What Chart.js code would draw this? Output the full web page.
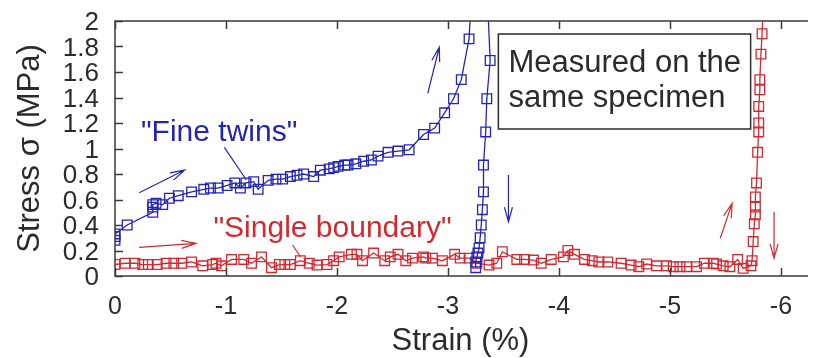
<!DOCTYPE html>
<html>
<head>
<meta charset="utf-8">
<script src="https://cdn.jsdelivr.net/npm/chart.js@4.4.1/dist/chart.umd.min.js"></script>
<style>
  html, body { margin: 0; padding: 0; background: #fff; }
  canvas { display: block; }
</style>
</head>
<body>
<canvas id="stressStrain" width="814" height="358"></canvas>
<script>
// axis ticks
const xTicks = [0, -1, -2, -3, -4, -5, -6]
const yTicks = [0, 0.2, 0.4, 0.6, 0.8, 1, 1.2, 1.4, 1.6, 1.8, 2]

// "Fine twins": loading branch, turnaround above 2 MPa, unloading branch
const fineStrain = [0, 0, 0, -0.11, -0.34, -0.34, -0.34, -0.37, -0.43, -0.49, -0.57, -0.69, -0.80, -0.86, -0.93,
  -1.01, -1.08, -1.13, -1.18, -1.25, -1.29, -1.38, -1.45, -1.51, -1.58, -1.64, -1.70, -1.79, -1.85, -1.93,
  -1.97, -2.01, -2.07, -2.10, -2.17, -2.24, -2.31, -2.37, -2.46, -2.55, -2.65, -2.78, -2.88, -2.97, -3.05,
  -3.12, -3.19, -3.29,
  -3.38, -3.35, -3.34, -3.32, -3.32, -3.31, -3.30, -3.29, -3.28, -3.27, -3.26, -3.25, -3.25]
const fineStress = [0.28, 0.31, 0.33, 0.40, 0.50, 0.54, 0.56, 0.57, 0.56, 0.61, 0.63, 0.66, 0.68, 0.69, 0.69,
  0.71, 0.73, 0.69, 0.73, 0.74, 0.68, 0.75, 0.76, 0.76, 0.78, 0.79, 0.80, 0.78, 0.83, 0.84,
  0.85, 0.86, 0.87, 0.87, 0.88, 0.90, 0.91, 0.94, 0.97, 0.98, 0.99, 1.11, 1.16, 1.28, 1.39,
  1.54, 1.86, 3.50,
  1.69, 1.39, 1.13, 0.87, 0.66, 0.52, 0.40, 0.30, 0.22, 0.18, 0.15, 0.11, 0.065]

// "Single boundary"
const singleStrain = [0, -0.09, -0.18, -0.25, -0.30, -0.38, -0.46, -0.53, -0.60, -0.69, -0.79, -0.88, -0.91, -0.96,
  -1.05, -1.16, -1.23, -1.32, -1.41, -1.48, -1.53, -1.58, -1.67, -1.75, -1.82, -1.91, -1.97, -2.02, -2.13,
  -2.18, -2.23, -2.33, -2.43, -2.48, -2.55, -2.62, -2.68, -2.78, -2.80, -2.86, -2.95, -3.06, -3.11, -3.19,
  -3.26, -3.37, -3.44, -3.49, -3.62, -3.69, -3.77, -3.84, -3.93, -4.04, -4.08, -4.14, -4.23, -4.30, -4.36,
  -4.44, -4.56, -4.65, -4.72, -4.79, -4.88, -4.97, -5.03, -5.09, -5.15, -5.24, -5.31, -5.39, -5.42, -5.48,
  -5.54, -5.61, -5.66, -5.73, -5.74, -5.75, -5.76, -5.77, -5.77, -5.77, -5.78, -5.79, -5.80, -5.80, -5.80,
  -5.81, -5.81, -5.82, -5.83, -5.86]
const singleStress = [0.09, 0.10, 0.10, 0.09, 0.09, 0.09, 0.10, 0.10, 0.10, 0.11, 0.08, 0.09, 0.10, 0.08,
  0.13, 0.13, 0.10, 0.15, 0.065, 0.09, 0.09, 0.09, 0.12, 0.10, 0.086, 0.09, 0.12, 0.15, 0.17,
  0.17, 0.12, 0.18, 0.12, 0.15, 0.17, 0.12, 0.14, 0.15, 0.14, 0.14, 0.12, 0.17, 0.14, 0.14,
  0.10, 0.086, 0.10, 0.19, 0.13, 0.13, 0.125, 0.10, 0.13, 0.15, 0.20, 0.17, 0.13, 0.12, 0.11,
  0.11, 0.10, 0.086, 0.073, 0.094, 0.08, 0.08, 0.073, 0.073, 0.073, 0.073, 0.10, 0.10, 0.094, 0.08,
  0.073, 0.13, 0.06, 0.08, 0.12, 0.27, 0.41, 0.48, 0.54, 0.62, 0.73, 0.97, 1.13, 1.20, 1.33,
  1.46, 1.54, 1.74, 1.90, 2.50]

const BLUE = '#2424b4'
const RED = '#d42830'
const INK = '#2b2b2b'
const FONT = "'Liberation Sans', Arial, Helvetica, sans-serif"

// labels, leaders and arrows, placed in strain/stress units
const notes = {
  texts: [
    { text: '"Fine twins"', x: -0.234, y: 1.061, color: BLUE },
    { text: '"Single boundary"', x: -0.887, y: 0.306, color: RED },
    { text: 'Measured on the', x: -3.545, y: 1.602, color: INK },
    { text: 'same specimen', x: -3.545, y: 1.325, color: INK }
  ],
  leaders: [
    { from: [-0.985, 1.009], to: [-1.184, 0.753], color: BLUE },
    { from: [-1.600, 0.243], to: [-1.674, 0.147], color: RED }
  ],
  arrows: [
    { from: [-0.218, 0.653], to: [-0.628, 0.831], color: BLUE },
    { from: [-2.818, 1.433], to: [-2.922, 1.794], color: BLUE },
    { from: [-3.545, 0.792], to: [-3.545, 0.426], color: BLUE },
    { from: [-0.218, 0.225], to: [-0.729, 0.256], color: RED },
    { from: [-5.453, 0.296], to: [-5.560, 0.570], color: RED },
    { from: [-5.938, 0.504], to: [-5.938, 0.139], color: RED }
  ],
  box: { x0: -3.454, y0: 1.898, x1: -5.727, y1: 1.153 }
}

function toPoints(xs, ys) {
  return xs.map((x, i) => ({ x: x, y: ys[i] }))
}

function arrow(ctx, x0, y0, x1, y1) {
  const a = Math.atan2(y1 - y0, x1 - x0)
  const h = 15, s = 0.27
  ctx.beginPath()
  ctx.moveTo(x0, y0)
  ctx.lineTo(x1, y1)
  ctx.moveTo(x1 - h * Math.cos(a - s), y1 - h * Math.sin(a - s))
  ctx.lineTo(x1, y1)
  ctx.lineTo(x1 - h * Math.cos(a + s), y1 - h * Math.sin(a + s))
  ctx.stroke()
}

// gnuplot-like frame with inward ticks, plus the annotations
const decorations = {
  id: 'decorations',
  afterDatasetsDraw(chart) {
    const ctx = chart.ctx
    const { left, right, top, bottom } = chart.chartArea
    const xs = chart.scales.x, ys = chart.scales.y
    const px = v => xs.getPixelForValue(v)
    const py = v => ys.getPixelForValue(v)

    ctx.save()
    ctx.strokeStyle = '#3a3a3a'
    ctx.lineWidth = 1.5
    ctx.beginPath()
    ctx.moveTo(right + 2, top)
    ctx.lineTo(left, top)
    ctx.lineTo(left, bottom)
    ctx.lineTo(right + 2, bottom)
    xTicks.forEach(t => {
      const x = Math.round(px(t)) + 0.5
      ctx.moveTo(x, bottom); ctx.lineTo(x, bottom - 8)
      ctx.moveTo(x, top); ctx.lineTo(x, top + 8)
    })
    yTicks.forEach(t => {
      const y = Math.round(py(t)) + 0.5
      ctx.moveTo(left, y); ctx.lineTo(left + 8, y)
    })
    ctx.stroke()

    // box around the note
    const b = notes.box
    ctx.fillStyle = '#fff'
    ctx.fillRect(px(b.x0), py(b.y0), px(b.x1) - px(b.x0), py(b.y1) - py(b.y0))
    ctx.strokeStyle = INK
    ctx.lineWidth = 1.5
    ctx.strokeRect(px(b.x0), py(b.y0), px(b.x1) - px(b.x0), py(b.y1) - py(b.y0))

    ctx.lineWidth = 1.2
    notes.leaders.forEach(l => {
      ctx.strokeStyle = l.color
      ctx.beginPath()
      ctx.moveTo(px(l.from[0]), py(l.from[1]))
      ctx.lineTo(px(l.to[0]), py(l.to[1]))
      ctx.stroke()
    })
    notes.arrows.forEach(a => {
      ctx.strokeStyle = a.color
      arrow(ctx, px(a.from[0]), py(a.from[1]), px(a.to[0]), py(a.to[1]))
    })

    ctx.textAlign = 'left'
    ctx.textBaseline = 'alphabetic'
    notes.texts.forEach(t => {
      ctx.font = (t.color === INK ? '31px ' : '30px ') + FONT
      ctx.fillStyle = t.color
      ctx.fillText(t.text, px(t.x), py(t.y))
    })
    ctx.restore()
  }
}

const chart = new Chart(document.getElementById('stressStrain'), {
  type: 'line',
  data: {
    datasets: [
      {
        label: 'Fine twins',
        data: toPoints(fineStrain, fineStress),
        borderColor: BLUE,
        backgroundColor: 'rgba(0,0,0,0)',
        borderWidth: 1.3,
        pointStyle: 'rect',
        pointRadius: 6.8,
        pointBorderWidth: 1.3,
        pointBorderColor: BLUE,
        pointBackgroundColor: 'rgba(0,0,0,0)',
        tension: 0
      },
      {
        label: 'Single boundary',
        data: toPoints(singleStrain, singleStress),
        borderColor: RED,
        backgroundColor: 'rgba(0,0,0,0)',
        borderWidth: 1.3,
        pointStyle: 'rect',
        pointRadius: 6.8,
        pointBorderWidth: 1.3,
        pointBorderColor: RED,
        pointBackgroundColor: 'rgba(0,0,0,0)',
        tension: 0
      }
    ]
  },
  options: {
    responsive: false,
    animation: false,
    layout: { padding: { top: 21, right: 0, left: 0, bottom: 0 } },
    plugins: { legend: { display: false }, tooltip: { enabled: false } },
    scales: {
      x: {
        type: 'linear',
        reverse: true,
        min: -6.225,
        max: 0,
        afterBuildTicks: s => { s.ticks = xTicks.map(v => ({ value: v })) },
        afterFit: s => {
          s.height = 82
          s.paddingLeft = 0
          s.paddingRight = 0
        },
        grid: { display: false, drawTicks: false },
        border: { display: false },
        ticks: {
          color: INK,
          font: { family: FONT, size: 25 },
          padding: 16,
          maxRotation: 0,
          autoSkip: false,
          callback: v => String(v)
        },
        title: {
          display: true,
          text: 'Strain (%)',
          color: INK,
          font: { family: FONT, size: 31 },
          padding: { top: 0, bottom: -2 }
        }
      },
      y: {
        type: 'linear',
        min: 0,
        max: 2,
        afterBuildTicks: s => { s.ticks = yTicks.map(v => ({ value: v })) },
        afterFit: s => {
          s.width = 115
          s.paddingTop = 0
          s.paddingBottom = 0
        },
        grid: { display: false, drawTicks: false },
        border: { display: false },
        ticks: {
          color: INK,
          font: { family: FONT, size: 26 },
          padding: 16,
          labelOffset: 2,
          autoSkip: false,
          callback: v => String(v)
        },
        title: {
          display: true,
          text: 'Stress σ (MPa)',
          color: INK,
          font: { family: FONT, size: 31 },
          padding: { top: 12, bottom: 0 }
        }
      }
    }
  },
  plugins: [decorations]
})
</script>
</body>
</html>
